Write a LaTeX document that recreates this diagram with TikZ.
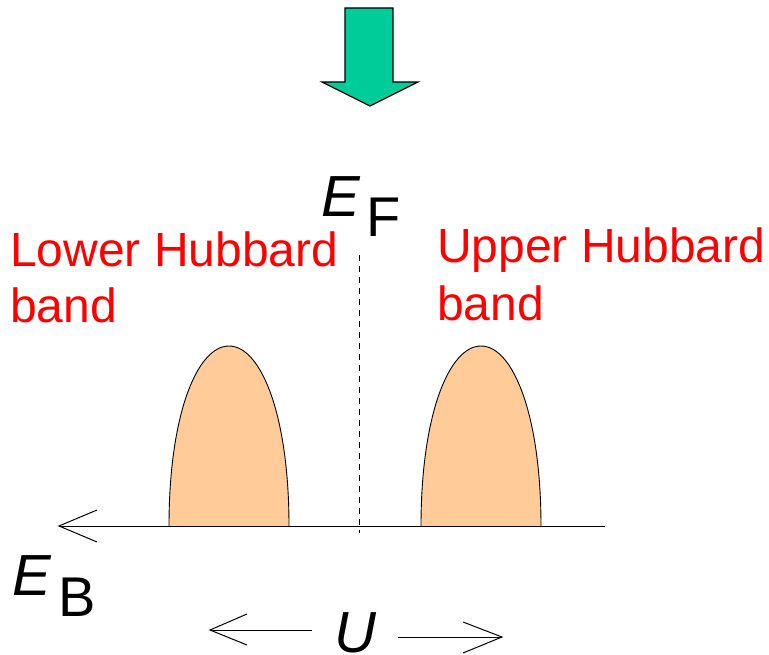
\documentclass[tikz,border=0pt]{standalone}
\usepackage{fontspec}
\setmainfont{Liberation Sans}
\definecolor{arrowgreen}{HTML}{00CC99}
\definecolor{bandfill}{HTML}{FFCC99}
\definecolor{labelred}{HTML}{FF0000}
\begin{document}
\begin{tikzpicture}[x=1pt,y=-1pt,
  lbl/.style={text=labelred,font=\fontsize{48}{56}\selectfont,align=left,inner sep=0pt},
  sym/.style={font=\fontsize{58}{58}\selectfont\itshape,inner sep=0pt},
  sub/.style={font=\fontsize{56}{56}\selectfont,inner sep=0pt},
  thinline/.style={line width=1pt},
  band/.style={fill=bandfill,draw=black,line width=0.9pt}]
\useasboundingbox (0,0) rectangle (769,655);
% green arrow
\draw[fill=arrowgreen,line width=1.2pt,line join=miter]
  (345,8) -- (393,8) -- (393,82) -- (418,82) -- (370,106) -- (322,82) -- (345,82) -- cycle;
% bands
\draw[band] (169,526) .. controls (169,415) and (197,346) .. (229,346)
  .. controls (261,346) and (289,415) .. (289,526);
\draw[band] (421,526) .. controls (421,415) and (449,346) .. (481,346)
  .. controls (513,346) and (541,415) .. (541,526);
% axis
\coordinate (axR) at (605,526);
\coordinate (axL) at (59,526);
\draw[thinline] (axR) -- (axL);
\draw[thinline] (97,510) -- (axL) -- (97,542);
% dashed EF line
\coordinate (efT) at (359,255);
\coordinate (efB) at (359,533);
\draw[dash pattern=on 6pt off 5pt,line width=0.8pt] (efT) -- (efB);
% labels
\node[lbl,anchor=base west] (lhb) at (10,323) {Lower Hubbard\\band};
\node[lbl,anchor=base west,font=\fontsize{48}{58}\selectfont] (uhb) at (437,320) {Upper Hubbard\\band};
\node[sym,anchor=base west] (ef) at (321,217) {E};
\node[sub,anchor=base west] (efs) at (366,237) {F};
\node[sym,anchor=base west] (eb) at (12,595) {E};
\node[sub,anchor=base west] (ebs) at (58,616) {B};
\node[sym,anchor=base west,text depth=0pt,text height=42pt] (u) at (334,652) {U};
% U arrows
\coordinate (ul1) at (312,630);
\coordinate (ul2) at (210,630);
\draw[thinline] (ul1) -- (ul2);
\draw[thinline] (247,614) -- (ul2) -- (247,645);
\coordinate (ur1) at (398,637);
\coordinate (ur2) at (502,637);
\draw[thinline] (ur1) -- (ur2);
\draw[thinline] (463,622) -- (ur2) -- (463,653);
\end{tikzpicture}
\end{document}
